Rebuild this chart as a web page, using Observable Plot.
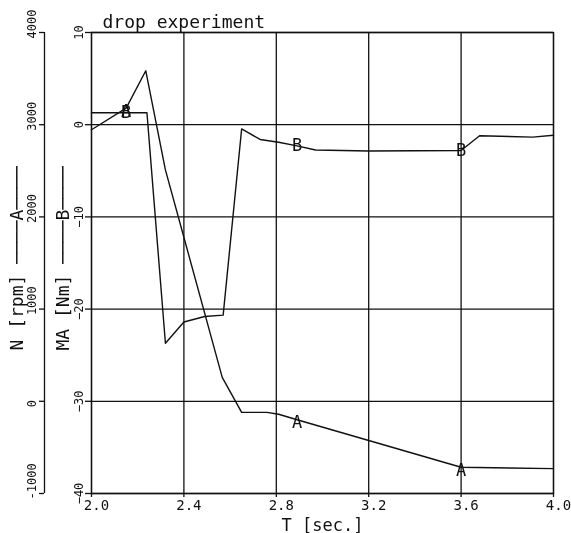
<!DOCTYPE html>
<html><head><meta charset="utf-8">
<script src="https://cdn.jsdelivr.net/npm/d3@7"></script>
<script src="https://cdn.jsdelivr.net/npm/@observablehq/plot@0.6"></script>
<style>
body{margin:0;background:#fff;}
#chart svg{filter:grayscale(1);}
</style></head><body><div id="chart"></div>
<script>
const title = "drop experiment";
const xLabel = "T [sec.]";
const nLabel = "N [rpm] ────A────";
const maLabel = "MA [Nm] ────B────";
const xTicks = [2.0, 2.4, 2.8, 3.2, 3.6, 4.0];
const maTicks = [-40, -30, -20, -10, 0, 10];
const nTicks = [-1000, 0, 1000, 2000, 3000, 4000];
const xDomain = [2.0, 4.0];
const maDomain = [-40, 10];
// series A: N [rpm]
const tA = [2.00, 2.15, 2.235, 2.32, 2.566, 2.65, 2.76, 2.81, 2.89, 3.60, 4.00];
const nA = [2945, 3180, 3585, 2510, 260, -120, -120, -140, -200, -715, -730];
// series B: MA [Nm]
const tB = [2.00, 2.15, 2.24, 2.32, 2.40, 2.49, 2.57, 2.65, 2.73, 2.81, 2.89, 2.97, 3.20, 3.60, 3.68, 3.91, 4.00];
const maB = [1.3, 1.3, 1.3, -23.7, -21.4, -20.8, -20.65, -0.45, -1.6, -1.9, -2.3, -2.75, -2.85, -2.8, -1.2, -1.35, -1.15];
const markerT = [2.15, 2.89, 3.60];

const toMA = d3.scaleLinear().domain([nTicks[0], nTicks[nTicks.length - 1]]).range([maTicks[0], maTicks[maTicks.length - 1]]);
const A = tA.map((t, i) => ({t, n: nA[i], y: toMA(nA[i])}));
const B = tB.map((t, i) => ({t, ma: maB[i]}));
const font = "DejaVu Sans Mono";
const ink = "#111";

const chart = Plot.plot({
  width: 571, height: 533,
  marginLeft: 91, marginRight: 18, marginTop: 32, marginBottom: 40,
  style: {background: "white", color: ink, fontFamily: font},
  x: {domain: xDomain},
  y: {domain: maDomain},
  marks: [
    Plot.gridX(xTicks, {stroke: ink, strokeOpacity: 1, strokeWidth: 1.3}),
    Plot.gridY(maTicks, {stroke: ink, strokeOpacity: 1, strokeWidth: 1.3}),
    Plot.frame({stroke: ink, strokeWidth: 1.3}),
    Plot.axisX(xTicks, {tickSize: 4, tickFormat: () => "", label: null, strokeWidth: 1.3}),
    Plot.axisX(xTicks, {tickSize: 0, tickPadding: 7, dx: 5, tickFormat: d3.format(".1f"), fontSize: 14, label: null}),
    Plot.axisY(maTicks, {tickSize: 6, tickRotate: -90, fontSize: 12, label: null, strokeWidth: 1.3}),
    Plot.ruleX([xDomain[0]], {dx: -47, stroke: ink, strokeWidth: 1.3}),
    Plot.axisY(maTicks, {tickSize: 5, dx: -47, tickFormat: () => "", label: null, strokeWidth: 1.3}),
    Plot.axisY(maTicks, {tickSize: 0, tickPadding: 9, dx: -47, dy: 6, tickRotate: -90, textAnchor: "start",
      tickFormat: d => String(nTicks[maTicks.indexOf(d)]), fontSize: 12, label: null}),
    Plot.line(A, {x: "t", y: "y", stroke: ink, strokeWidth: 1.4}),
    Plot.line(B, {x: "t", y: "ma", stroke: ink, strokeWidth: 1.4}),
    Plot.text(A.filter(d => markerT.includes(d.t)), {x: "t", y: "y", text: () => "A", fontSize: 17, dy: 3, fill: ink}),
    Plot.text(B.filter(d => markerT.includes(d.t)), {x: "t", y: "ma", text: () => "B", fontSize: 17, fill: ink}),
    Plot.text([title], {frameAnchor: "top-left", text: d => d, dx: 11, dy: -5, textAnchor: "start", lineAnchor: "bottom", fontSize: 18, fill: ink}),
    Plot.text([xLabel], {frameAnchor: "bottom", text: d => d, dy: 37, lineAnchor: "bottom", fontSize: 17, fill: ink}),
    Plot.text([nLabel], {frameAnchor: "top-left", text: d => d, rotate: -90, dx: -69, dy: 318, textAnchor: "start", lineAnchor: "bottom", fontSize: 18, fill: ink}),
    Plot.text([maLabel], {frameAnchor: "top-left", text: d => d, rotate: -90, dx: -23, dy: 318, textAnchor: "start", lineAnchor: "bottom", fontSize: 18, fill: ink})
  ]
});
document.getElementById("chart").appendChild(chart);
</script>
</body></html>
